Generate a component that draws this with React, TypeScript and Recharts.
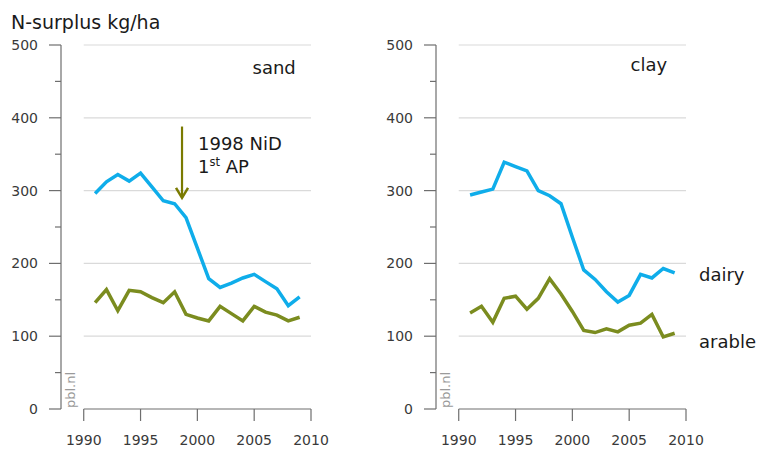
import React from 'react';
import { LineChart, Line, XAxis, YAxis, ReferenceLine } from 'recharts';

// N-surplus per hectare, dairy vs arable farms, 1991-2009
const YEARS = [1991, 1992, 1993, 1994, 1995, 1996, 1997, 1998, 1999, 2000, 2001, 2002, 2003, 2004, 2005, 2006, 2007, 2008, 2009];

const SAND_DAIRY = [296, 312, 322, 313, 324, 305, 286, 282, 263, 221, 179, 167, 173, 180, 185, 175, 165, 142, 154];
const SAND_ARABLE = [146, 164, 135, 163, 161, 153, 146, 161, 130, 125, 121, 141, 131, 121, 141, 133, 129, 121, 126];

const CLAY_DAIRY = [294, 298, 302, 339, 333, 327, 300, 293, 282, 236, 191, 178, 161, 147, 156, 185, 180, 193, 187];
const CLAY_ARABLE = [132, 141, 119, 152, 155, 137, 152, 179, 158, 134, 108, 105, 110, 106, 115, 118, 130, 99, 104];

const X_TICKS = [1990, 1995, 2000, 2005, 2010];
const Y_TICKS = [0, 50, 100, 150, 200, 250, 300, 350, 400, 450, 500];
const GRID_VALUES = [100, 200, 300, 400, 500];

// NiD / 1st action programme marker
const ARROW_YEAR = 1998.65;
const ARROW_FROM = 388;
const ARROW_TO = 290;

const BLUE = '#0fadea';
const GREEN = '#7b8c1f';
const OLIVE = '#7a7a00';
const AXIS = '#6e6e6e';
const GRID = '#dadada';
const LABEL = '#3a3a3a';
const FONT = 'DejaVu Sans, sans-serif';

const toRows = (dairy: number[], arable: number[]) =>
  YEARS.map((year, i) => ({ year, dairy: dairy[i], arable: arable[i] }));

const YTick = (props: any) => {
  const { x, y, payload } = props;
  const major = payload.value % 100 === 0;
  return (
    <g>
      <line x1={x - (major ? 12 : 6)} x2={x} y1={y} y2={y} stroke={AXIS} strokeWidth={1.2} />
      {major && (
        <text x={x - 23} y={y} dy={5} textAnchor="end" fontSize={14} fill={LABEL} fontFamily={FONT}>
          {payload.value}
        </text>
      )}
    </g>
  );
};

const XTick = (props: any) => {
  const { x, y, payload } = props;
  return (
    <g>
      <line x1={x} x2={x} y1={y} y2={y + 12} stroke={AXIS} strokeWidth={1.2} />
      <text x={x} y={y + 36} textAnchor="middle" fontSize={14} fill={LABEL} fontFamily={FONT}>
        {payload.value}
      </text>
    </g>
  );
};

const Arrow = (props: any) => {
  const { x1, y1, x2, y2 } = props;
  return (
    <g>
      <line x1={x1} y1={y1} x2={x2} y2={y2} stroke={OLIVE} strokeWidth={2.2} />
      <polyline
        points={`${x2 - 6},${y2 - 10} ${x2},${y2} ${x2 + 6},${y2 - 10}`}
        fill="none"
        stroke={OLIVE}
        strokeWidth={2.5}
      />
    </g>
  );
};

const Panel = ({ dairy, arable, arrow }: { dairy: number[]; arable: number[]; arrow?: boolean }) => (
  <LineChart width={380} height={450} data={toRows(dairy, arable)} margin={{ top: 45, right: 69, bottom: 0, left: 0 }}>
    <XAxis
      dataKey="year"
      type="number"
      domain={[1988, 2010]}
      ticks={X_TICKS}
      axisLine={false}
      tickLine={false}
      tickSize={0}
      tickMargin={0}
      height={41}
      tick={<XTick />}
    />
    <YAxis
      domain={[0, 500]}
      ticks={Y_TICKS}
      width={61}
      axisLine={{ stroke: AXIS, strokeWidth: 1.2 }}
      tickLine={false}
      tickSize={0}
      tickMargin={0}
      tick={<YTick />}
    />
    {GRID_VALUES.map((v) => (
      <ReferenceLine
        key={v}
        segment={[{ x: 1990, y: v }, { x: 2010, y: v }]}
        stroke={GRID}
        strokeWidth={1.2}
        ifOverflow="visible"
      />
    ))}
    <ReferenceLine
      segment={[{ x: 1990, y: 0 }, { x: 2010, y: 0 }]}
      stroke={AXIS}
      strokeWidth={1.2}
      ifOverflow="visible"
    />
    <Line type="linear" dataKey="dairy" stroke={BLUE} strokeWidth={3.5} dot={false} activeDot={false} isAnimationActive={false} />
    <Line type="linear" dataKey="arable" stroke={GREEN} strokeWidth={3.5} dot={false} activeDot={false} isAnimationActive={false} />
    {arrow && (
      <ReferenceLine
        segment={[{ x: ARROW_YEAR, y: ARROW_FROM }, { x: ARROW_YEAR, y: ARROW_TO }]}
        shape={<Arrow />}
        ifOverflow="visible"
      />
    )}
  </LineChart>
);

export default function App() {
  const text = { fontFamily: FONT, fill: '#1a1a1a' };
  return (
    <div style={{ position: 'absolute', left: 0, top: 0, width: 759, height: 450, background: '#fff' }}>
      <div style={{ position: 'absolute', left: 0, top: 0 }}>
        <Panel dairy={SAND_DAIRY} arable={SAND_ARABLE} arrow />
      </div>
      <div style={{ position: 'absolute', left: 375, top: 0 }}>
        <Panel dairy={CLAY_DAIRY} arable={CLAY_ARABLE} />
      </div>
      <svg width={759} height={450} style={{ position: 'absolute', left: 0, top: 0, pointerEvents: 'none' }}>
        <text x={11} y={29} fontSize={19} {...text}>N-surplus kg/ha</text>
        <text x={252.5} y={74} fontSize={18} {...text}>sand</text>
        <text x={630.5} y={71} fontSize={18} {...text}>clay</text>
        <text x={198} y={149.5} fontSize={18} {...text}>1998 NiD</text>
        <text x={198} y={172.5} fontSize={18} {...text}>
          1<tspan fontSize={11.5} dy={-7}>st</tspan>
          <tspan dy={7}> AP</tspan>
        </text>
        <text x={699} y={281} fontSize={18} {...text}>dairy</text>
        <text x={699} y={347.5} fontSize={18} {...text}>arable</text>
        <text transform="translate(74.5,408) rotate(-90)" fontSize={13} fill="#9a9a9a" fontFamily={FONT}>pbl.nl</text>
        <text transform="translate(449.5,408) rotate(-90)" fontSize={13} fill="#9a9a9a" fontFamily={FONT}>pbl.nl</text>
      </svg>
    </div>
  );
}
